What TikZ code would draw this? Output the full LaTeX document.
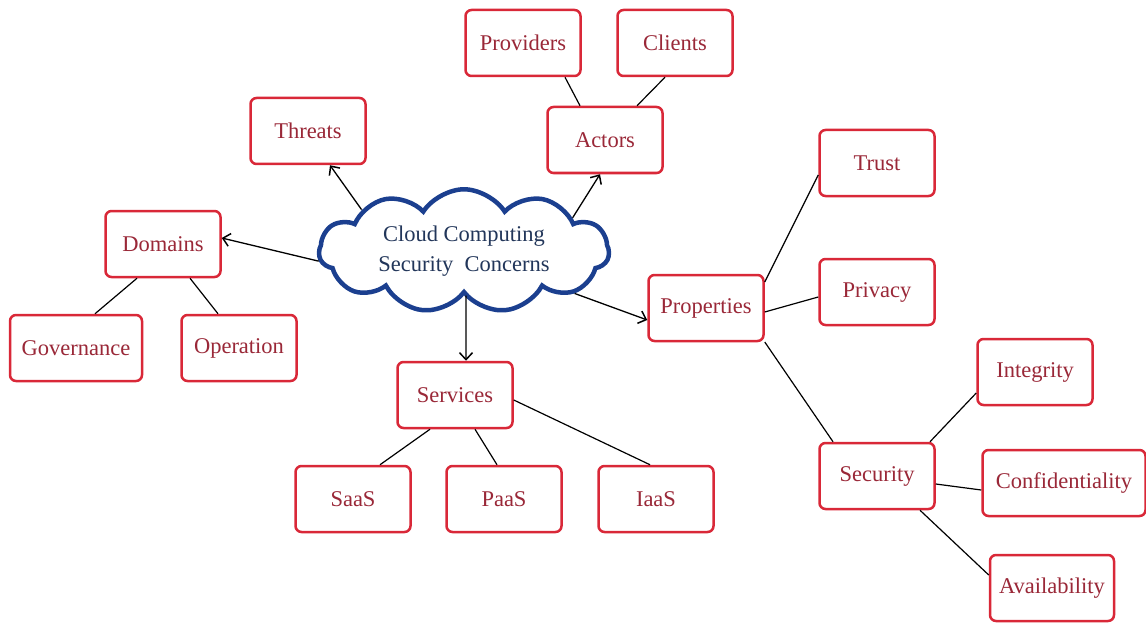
\documentclass[tikz,border=0pt]{standalone}
\usepackage{fontspec}
\setmainfont{Liberation Serif}
\usetikzlibrary{shapes.symbols,arrows.meta}
\definecolor{boxred}{HTML}{D92838}
\definecolor{txtred}{HTML}{9A2838}
\definecolor{cloudblue}{HTML}{1B3F8F}
\definecolor{cloudtxt}{HTML}{22365A}
\tikzset{
  box/.style={draw=boxred, line width=2.5pt, rounded corners=6pt, fill=white,
    minimum width=115pt, minimum height=66pt, text=txtred, inner sep=2pt,
    font=\fontsize{22.5}{26}\selectfont},
  cloudnode/.style={cloud, cloud puffs=11, cloud puff arc=115, aspect=2.7,
    cloud ignores aspect=false, draw=cloudblue,
    line width=4.5pt, fill=white, text=cloudtxt, align=center, inner sep=0pt,
    minimum width=290pt, minimum height=105pt,
    font=\fontsize{22.5}{30}\selectfont},
  link/.style={black, line width=1.2pt},
  arr/.style={black, line width=1.3pt, -{Straight Barb[length=7pt,width=13pt,line width=1.5pt]}}
}
\begin{document}
\begin{tikzpicture}[x=1pt,y=-1pt]
\useasboundingbox (0,0) rectangle (1146,623);
\node[box] (providers) at (523,43) {Providers};
\node[box] (clients) at (675,43) {Clients};
\node[box] (actors) at (605,140) {Actors};
\node[box] (threats) at (308,131) {Threats};
\node[box] (domains) at (163,244) {Domains};
\node[box, minimum width=132pt] (governance) at (76,348) {Governance};
\node[box] (operation) at (239,348) {Operation};
\node[cloudnode] (cloud) at (464,251) {Cloud Computing\\Security\ \ Concerns};
\node[box] (services) at (455,395) {Services};
\node[box] (saas) at (353,499) {SaaS};
\node[box] (paas) at (504,499) {PaaS};
\node[box] (iaas) at (656,499) {IaaS};
\node[box] (properties) at (706,308) {Properties};
\node[box] (trust) at (877,163) {Trust};
\node[box] (privacy) at (877,292) {Privacy};
\node[box] (security) at (877,476) {Security};
\node[box] (integrity) at (1035,372) {Integrity};
\node[box, minimum width=163pt] (confidentiality) at (1064,483) {Confidentiality};
\node[box, minimum width=124pt] (availability) at (1052,588) {Availability};

\draw[link] ([xshift=42pt]providers.south) -- ([xshift=-25pt]actors.north);
\draw[link] ([xshift=-10pt]clients.south) -- ([xshift=32pt]actors.north);
\draw[link] ([xshift=-26pt]domains.south) -- ([xshift=19pt]governance.north);
\draw[link] ([xshift=27pt]domains.south) -- ([xshift=-21pt]operation.north);
\draw[link] ([xshift=-25pt]services.south) -- ([xshift=27pt]saas.north);
\draw[link] ([xshift=20pt]services.south) -- ([xshift=-7pt]paas.north);
\draw[link] ([yshift=-5pt]services.east) -- ([xshift=-6pt]iaas.north);
\draw[link] ([yshift=26pt]properties.east) -- ([yshift=-12pt]trust.west);
\draw[link] ([yshift=-4pt]properties.east) -- ([yshift=-5pt]privacy.west);
\draw[link] ([yshift=-34pt]properties.east) -- ([xshift=-44pt]security.north);
\draw[link] ([xshift=53pt]security.north) -- ([yshift=-21pt]integrity.west);
\draw[link] ([yshift=-8pt]security.east) -- ([yshift=-7pt]confidentiality.west);
\draw[link] ([xshift=43pt]security.south) -- ([yshift=13pt]availability.west);

\draw[arr] (cloud.158) -- ([xshift=22pt]threats.south);
\draw[arr] (cloud.17) -- ([xshift=-5pt]actors.south);
\draw[arr] (cloud.184) -- ([yshift=6pt]domains.east);
\draw[arr] (cloud.-21) -- ([yshift=-12pt]properties.west);
\draw[arr] ([xshift=2pt]cloud.south) -- ([xshift=11pt]services.north);
\end{tikzpicture}
\end{document}
